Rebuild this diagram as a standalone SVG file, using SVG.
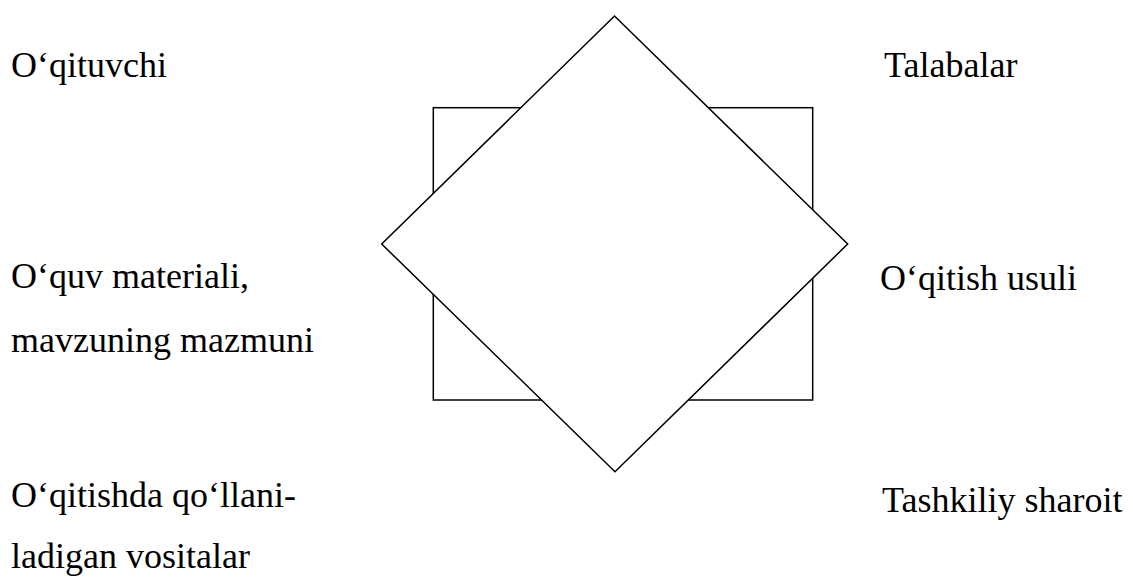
<svg xmlns="http://www.w3.org/2000/svg" width="1133" height="587" viewBox="0 0 1133 587">
<style>
.s{fill:#fff;stroke:#000;stroke-width:1.5}
.t{font-family:"Liberation Serif","Times New Roman",serif;font-size:36px;fill:#000}
</style>
<rect width="1133" height="587" fill="#fff"/>
<g id="square"><rect class="s" x="433.3" y="107.7" width="379.4" height="292.3"/></g>
<g id="diamond"><polygon class="s" points="614.5,16 847.7,244 615,471.7 381.7,244"/></g>
<g id="labels">
<text class="t" x="11" y="77">O‘qituvchi</text>
<text class="t" x="884" y="77">Talabalar</text>
<text class="t" x="11" y="288">O‘quv materiali,</text>
<text class="t" x="11" y="352">mavzuning mazmuni</text>
<text class="t" x="880" y="290">O‘qitish usuli</text>
<text class="t" x="11" y="507">O‘qitishda qo‘llani-</text>
<text class="t" x="11" y="568">ladigan vositalar</text>
<text class="t" x="882" y="512">Tashkiliy sharoit</text>
</g>
</svg>
